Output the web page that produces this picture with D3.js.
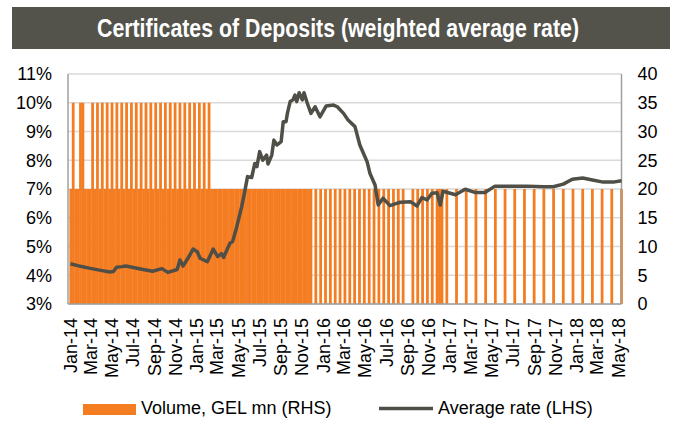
<!DOCTYPE html>
<html lang="en">
<head>
<meta charset="utf-8">
<script src="https://cdn.jsdelivr.net/npm/d3@7"></script>
<style>
    body { margin: 0; background: #fff; }
    text { font-family: "Liberation Sans", Arial, sans-serif; fill: #000; }
</style>
</head>
<body>
<script>
    // weekly CD auction volume, GEL mn (RHS) - one value per Saturday week, 0 = no auction
    const firstWeek = "2014-01-04";
    const vol2014 = [20,35,20,20,35,35,20,20,20,35,20,35,20,35,20,35,20,35,20,35,20,35,20,35,20,35,
                     20,35,20,35,20,35,20,35,20,35,20,35,20,35,20,35,20,35,20,35,20,35,20,35,20,35];
    const vol2015 = [20,35,20,35,20,35,20,20,20,20,20,20,20,20,20,20,20,20,20,20,20,20,20,20,20,20,
                     20,20,20,20,20,20,20,20,20,20,20,20,20,20,20,20,20,20,20,20,20,20,0,20,0,20];
    const vol2016 = [0,20,0,20,0,20,0,20,0,20,0,20,0,20,0,20,0,20,0,20,0,20,0,20,0,20,0,20,0,20,0,20,0,20,
                     0,0,0,20,0,20,0,20,0,20,0,20,0,20,20,20,0,20,0];
    const vol2017 = [0,0,20,0,0,0,20,0,0,0,20,0,0,0,20,0,0,0,20,0,0,0,20,0,0,0,
                     20,0,0,0,20,0,0,0,20,0,0,0,20,0,0,0,20,0,0,0,20,0,0,0,20,0];
    const vol2018 = [0,0,20,0,0,0,20,0,0,0,20,0,0,0,20,0,0,0,20];

    // weighted average rate, % (LHS)
    const rateDates = ["2014-01-03","2014-02-01","2014-03-01","2014-04-05","2014-04-26","2014-05-07","2014-05-16",
        "2014-05-31","2014-06-12","2014-07-03","2014-08-01","2014-08-28","2014-09-24","2014-10-11","2014-11-07",
        "2014-11-15","2014-11-24","2014-12-08","2014-12-23","2015-01-04","2015-01-12","2015-02-02","2015-02-19",
        "2015-03-04","2015-03-15","2015-03-21","2015-04-08","2015-04-16","2015-04-28","2015-05-12","2015-05-20",
        "2015-05-29","2015-06-10","2015-06-19","2015-06-25","2015-07-03","2015-07-12","2015-07-23","2015-07-27",
        "2015-08-07","2015-08-13","2015-08-22","2015-09-03","2015-09-09","2015-09-17","2015-09-21","2015-09-29",
        "2015-10-07","2015-10-13","2015-10-18","2015-10-25","2015-11-03","2015-11-08","2015-11-17","2015-11-28",
        "2015-12-10","2015-12-24","2016-01-11","2016-02-01","2016-02-12","2016-03-01","2016-03-14","2016-04-03",
        "2016-04-17","2016-05-08","2016-05-16","2016-05-31","2016-06-09","2016-06-23","2016-07-13","2016-07-28",
        "2016-08-12","2016-09-10","2016-09-29","2016-10-13","2016-10-28","2016-11-11","2016-11-26","2016-12-05",
        "2016-12-13","2016-12-26","2017-01-18","2017-02-15","2017-03-15","2017-04-13","2017-05-12","2017-06-25",
        "2017-08-13","2017-09-29","2017-10-27","2017-11-25","2017-12-21","2018-01-20","2018-02-17","2018-03-20",
        "2018-04-18","2018-05-12"];
    const rateValues = [4.40,4.31,4.24,4.16,4.11,4.13,4.28,
        4.30,4.32,4.27,4.20,4.14,4.23,4.10,4.20,
        4.53,4.32,4.59,4.91,4.82,4.59,4.47,4.91,
        4.65,4.75,4.62,5.11,5.17,5.69,6.38,6.85,
        7.43,7.40,7.89,7.78,8.30,8.00,8.18,7.87,
        8.18,8.70,8.53,8.65,9.34,9.34,9.63,10.04,
        10.10,10.27,10.04,10.35,10.10,10.35,10.00,9.63,
        9.86,9.51,9.89,9.92,9.86,9.63,9.40,9.17,
        8.53,7.95,7.55,7.14,6.44,6.68,6.42,6.48,
        6.54,6.56,6.41,6.70,6.62,6.85,6.87,6.44,
        6.92,6.88,6.80,6.99,6.88,6.88,7.10,7.10,
        7.10,7.08,7.08,7.17,7.34,7.38,7.31,7.24,
        7.24,7.29];

    const leftTicks = [3,4,5,6,7,8,9,10,11];
    const rightTicks = [0,5,10,15,20,25,30,35,40];
    const titleText = "Certificates of Deposits (weighted average rate)";
    const volLabel = "Volume, GEL mn (RHS)";
    const rateLabel = "Average rate (LHS)";

    let w = 676, h = 421;
    let plotL = 68, plotR = 621.5, plotT = 74, plotB = 304;
    const orange = "#f47c21";
    const dark = "#4f4f47";

    const parse = d3.utcParse("%Y-%m-%d");

    let svg = d3.select("body").append("svg")
        .attr("width", w)
        .attr("height", h);

    svg.append("rect").attr("width", w).attr("height", h).attr("fill", "#fff");

    // title band (narrow bold look: squeeze the bold face horizontally)
    svg.append("rect")
        .attr("x", 12).attr("y", 7)
        .attr("width", 658).attr("height", 42)
        .attr("fill", "#53534b");
    svg.append("text")
        .attr("transform", `translate(${w / 2},37) scale(0.82,1)`)
        .attr("text-anchor", "middle")
        .style("font-weight", "bold")
        .style("font-size", "26px")
        .style("fill", "#fff")
        .text(titleText);

    let xScale = d3.scaleUtc()
        .domain([parse("2013-12-27"), parse("2018-05-12")])
        .range([plotL, plotR]);
    let yLeft = d3.scaleLinear().domain([3, 11]).range([plotB, plotT]);
    let yRight = d3.scaleLinear().domain([0, 40]).range([plotB, plotT]);

    // gridlines
    svg.append("g")
        .selectAll("line")
        .data(leftTicks)
        .join("line")
        .attr("x1", plotL).attr("x2", plotR)
        .attr("y1", d => yLeft(d)).attr("y2", d => yLeft(d))
        .attr("stroke", "#d9d9d9")
        .attr("stroke-width", 1.5);

    // volume bars
    let allVol = [].concat(vol2014, vol2015, vol2016, vol2017, vol2018);
    let weeks = d3.utcSaturday.range(parse(firstWeek), parse("2018-05-13"));
    let volData = weeks.map((d, i) => ({ date: d, value: allVol[i] })).filter(d => d.value > 0);

    svg.append("g")
        .attr("fill", orange)
        .selectAll("rect")
        .data(volData)
        .join("rect")
        .attr("x", d => xScale(d3.utcDay.offset(d.date, -4)))
        .attr("width", d => xScale(d3.utcDay.offset(d.date, 4)) - xScale(d3.utcDay.offset(d.date, -4)))
        .attr("y", d => yRight(d.value))
        .attr("height", d => yRight(0) - yRight(d.value));

    // axis frame
    let frame = svg.append("g").attr("stroke", "#a0a0a0").attr("stroke-width", 1.5);
    frame.append("line").attr("x1", plotL).attr("x2", plotL).attr("y1", plotT).attr("y2", plotB);
    frame.append("line").attr("x1", plotR).attr("x2", plotR).attr("y1", plotT).attr("y2", plotB);
    frame.append("line").attr("x1", plotL).attr("x2", plotR).attr("y1", plotB).attr("y2", plotB);

    // rate line
    let rateData = rateDates.map((d, i) => ({ date: parse(d), value: rateValues[i] }));
    svg.append("path")
        .datum(rateData)
        .attr("fill", "none")
        .attr("stroke", dark)
        .attr("stroke-width", 3.5)
        .attr("stroke-linejoin", "round")
        .attr("d", d3.line().x(d => xScale(d.date)).y(d => yLeft(d.value)));

    // left axis
    let axL = svg.append("g")
        .attr("transform", `translate(${plotL},0)`)
        .call(d3.axisLeft(yLeft).tickValues(leftTicks).tickFormat(d => d + "%").tickSize(0).tickPadding(16));
    axL.select(".domain").remove();
    axL.selectAll("text").style("font-size", "18px").style("font-family", "'Liberation Sans', Arial, sans-serif");

    // right axis
    let axR = svg.append("g")
        .attr("transform", `translate(${plotR},0)`)
        .call(d3.axisRight(yRight).tickValues(rightTicks).tickSize(0).tickPadding(16));
    axR.select(".domain").remove();
    axR.selectAll("text").style("font-size", "18px").style("font-family", "'Liberation Sans', Arial, sans-serif");

    // bottom axis, every 2 months
    let monthTicks = d3.utcMonth.every(2).range(parse("2014-01-01"), parse("2018-05-02"));
    let axB = svg.append("g")
        .attr("transform", `translate(0,${plotB})`)
        .call(d3.axisBottom(xScale).tickValues(monthTicks).tickFormat(d3.utcFormat("%b-%y")).tickSize(0));
    axB.select(".domain").remove();
    axB.selectAll("text")
        .style("font-size", "18px")
        .style("font-family", "'Liberation Sans', Arial, sans-serif")
        .attr("text-anchor", "end")
        .attr("transform", "rotate(-90)")
        .attr("x", -14)
        .attr("y", 0)
        .attr("dy", "0.35em");

    // legend
    let legend = svg.append("g");
    legend.append("rect")
        .attr("x", 83).attr("y", 404)
        .attr("width", 53).attr("height", 11)
        .attr("fill", orange);
    legend.append("text")
        .attr("x", 141).attr("y", 414)
        .style("font-size", "18px")
        .text(volLabel);
    legend.append("line")
        .attr("x1", 379).attr("x2", 433)
        .attr("y1", 408.5).attr("y2", 408.5)
        .attr("stroke", dark)
        .attr("stroke-width", 3.5);
    legend.append("text")
        .attr("x", 438).attr("y", 414)
        .style("font-size", "18px")
        .text(rateLabel);
</script>
</body>
</html>
